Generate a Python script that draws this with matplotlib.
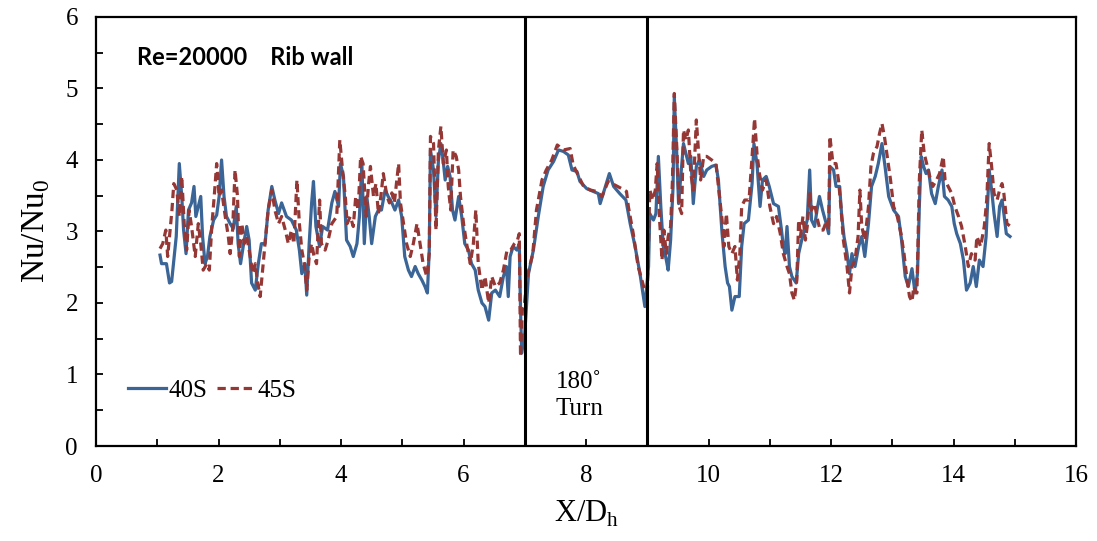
import matplotlib
matplotlib.use("Agg")
import matplotlib.pyplot as plt
from matplotlib.ticker import MultipleLocator

# 40S 曲线 (X/Dh, Nu/Nu0)
x40 = [1.045, 1.07, 1.15, 1.20, 1.235, 1.31, 1.36, 1.40, 1.43, 1.47, 1.51, 1.56, 1.60, 1.63, 1.67,
       1.71, 1.74, 1.78, 1.82, 1.86, 1.92, 1.97, 2.01, 2.05, 2.09, 2.13, 2.19, 2.24, 2.29, 2.32,
       2.36, 2.41, 2.46, 2.50, 2.54, 2.60, 2.65, 2.70, 2.76, 2.81, 2.87, 2.92, 2.98, 3.03, 3.11,
       3.19, 3.27, 3.32, 3.36, 3.41, 3.44, 3.48, 3.52, 3.55, 3.59, 3.65, 3.70, 3.78, 3.85, 3.90,
       3.96, 3.99, 4.04, 4.09, 4.15, 4.20, 4.26, 4.30, 4.34, 4.38, 4.42, 4.46, 4.50, 4.56, 4.61,
       4.66, 4.72, 4.77, 4.83, 4.88, 4.94, 4.99, 5.04, 5.10, 5.15, 5.21, 5.26, 5.32, 5.37, 5.41,
       5.44, 5.46, 5.51, 5.55, 5.59, 5.63, 5.66, 5.70, 5.74, 5.78, 5.82, 5.86, 5.92, 5.97, 6.02,
       6.08, 6.13, 6.19, 6.24, 6.30, 6.35, 6.41, 6.46, 6.52, 6.59, 6.65, 6.70, 6.73, 6.76, 6.81,
       6.87, 6.91, 6.93, 6.95, 7.00, 7.06, 7.14, 7.22, 7.30, 7.38, 7.47, 7.55, 7.63, 7.71, 7.77,
       7.85, 7.90, 8.01, 8.12, 8.20, 8.23, 8.28, 8.38, 8.45, 8.55, 8.65, 8.72, 8.80, 8.88, 8.96,
       9.02, 9.04, 9.10, 9.14, 9.18, 9.22, 9.26, 9.31, 9.34, 9.38, 9.42, 9.44, 9.48, 9.51, 9.55,
       9.59, 9.63, 9.67, 9.71, 9.75, 9.80, 9.85, 9.92, 9.97, 10.05, 10.12, 10.16, 10.22, 10.27, 10.31,
       10.34, 10.38, 10.43, 10.50, 10.54, 10.58, 10.65, 10.71, 10.74, 10.79, 10.84, 10.88, 10.94, 10.99, 11.06,
       11.14, 11.19, 11.22, 11.25, 11.28, 11.32, 11.36, 11.43, 11.47, 11.52, 11.58, 11.61, 11.65, 11.68, 11.73,
       11.77, 11.81, 11.86, 11.92, 11.96, 11.98, 12.04, 12.08, 12.14, 12.17, 12.21, 12.26, 12.30, 12.34, 12.39,
       12.45, 12.50, 12.55, 12.61, 12.66, 12.72, 12.77, 12.83, 12.88, 12.94, 13.02, 13.10, 13.15, 13.21, 13.26,
       13.32, 13.37, 13.41, 13.44, 13.47, 13.51, 13.55, 13.59, 13.64, 13.70, 13.75, 13.81, 13.85, 13.91, 13.97,
       14.01, 14.05, 14.11, 14.16, 14.21, 14.27, 14.32, 14.37, 14.42, 14.48, 14.53, 14.58, 14.62, 14.66, 14.71,
       14.75, 14.79, 14.82, 14.86, 14.92]
y40 = [2.67, 2.55, 2.55, 2.28, 2.30, 2.93, 3.95, 3.49, 3.02, 2.69, 3.30, 3.40, 3.63, 3.21, 3.35,
       3.49, 2.93, 2.55, 2.65, 2.93, 3.16, 3.23, 3.49, 4.00, 3.49, 3.21, 3.11, 3.04, 3.35, 2.83,
       2.55, 2.83, 3.07, 2.88, 2.28, 2.18, 2.55, 2.83, 2.83, 3.30, 3.63, 3.44, 3.25, 3.40, 3.21,
       3.16, 3.02, 2.74, 2.41, 2.55, 2.11, 2.83, 3.40, 3.70, 3.07, 2.79, 3.07, 3.02, 3.40, 3.56,
       3.35, 3.95, 3.77, 2.88, 2.79, 2.65, 2.83, 3.21, 3.95, 2.83, 3.49, 3.21, 2.83, 3.21, 3.30,
       3.30, 3.58, 3.49, 3.40, 3.30, 3.44, 3.21, 2.65, 2.46, 2.37, 2.51, 2.41, 2.32, 2.23, 2.14,
       2.74, 4.14, 3.86, 3.21, 4.00, 4.23, 4.05, 3.72, 3.91, 3.77, 3.30, 3.16, 3.49, 3.21, 2.83,
       2.74, 2.55, 2.46, 2.18, 2.00, 1.95, 1.76, 2.14, 2.18, 2.09, 2.37, 2.51, 2.09, 2.65, 2.79,
       2.74, 2.83, 1.90, 1.30, 1.58, 2.41, 2.74, 3.21, 3.63, 3.86, 3.98, 4.14, 4.12, 4.07, 3.86,
       3.84, 3.70, 3.60, 3.56, 3.53, 3.39, 3.53, 3.81, 3.63, 3.53, 3.44, 3.11, 2.79, 2.41, 1.95,
       2.51, 3.25, 3.16, 3.25, 4.05, 3.35, 2.79, 2.60, 2.46, 2.88, 3.63, 4.89, 4.09, 3.39, 3.81,
       4.23, 4.09, 3.95, 4.05, 3.39, 3.91, 4.00, 3.77, 3.86, 3.91, 3.93, 3.72, 2.97, 2.51, 2.28,
       2.23, 1.90, 2.09, 2.09, 2.79, 3.11, 3.16, 3.67, 4.23, 3.95, 3.35, 3.72, 3.77, 3.63, 3.39,
       3.35, 3.02, 2.79, 2.69, 3.07, 2.51, 2.37, 2.28, 2.69, 2.88, 3.07, 3.16, 3.86, 3.16, 3.07,
       3.30, 3.49, 3.30, 3.11, 2.97, 3.91, 3.86, 3.63, 3.63, 3.25, 2.93, 2.69, 2.41, 2.69, 2.51,
       2.79, 2.93, 2.65, 3.11, 3.63, 3.77, 3.95, 4.23, 3.91, 3.49, 3.30, 3.21, 2.88, 2.37, 2.23,
       2.48, 2.14, 2.41, 3.35, 4.05, 3.91, 3.81, 3.86, 3.53, 3.39, 3.63, 3.86, 3.49, 3.44, 3.35,
       3.11, 2.97, 2.83, 2.60, 2.18, 2.28, 2.51, 2.23, 2.60, 2.51, 2.93, 3.86, 3.58, 3.25, 2.93,
       3.35, 3.44, 3.25, 2.97, 2.93]

# 45S 曲线
x45 = [1.045, 1.09, 1.14, 1.17, 1.24, 1.27, 1.32, 1.36, 1.40, 1.44, 1.48, 1.52, 1.56, 1.62, 1.67,
       1.71, 1.75, 1.81, 1.85, 1.89, 1.93, 1.97, 2.01, 2.05, 2.11, 2.16, 2.19, 2.23, 2.27, 2.31,
       2.34, 2.38, 2.42, 2.46, 2.50, 2.56, 2.60, 2.64, 2.68, 2.72, 2.76, 2.81, 2.87, 2.92, 2.98,
       3.03, 3.09, 3.14, 3.19, 3.23, 3.28, 3.32, 3.36, 3.40, 3.44, 3.48, 3.52, 3.56, 3.60, 3.65,
       3.68, 3.74, 3.79, 3.85, 3.93, 3.98, 4.03, 4.07, 4.10, 4.15, 4.20, 4.24, 4.28, 4.32, 4.36,
       4.41, 4.45, 4.48, 4.53, 4.57, 4.61, 4.65, 4.69, 4.75, 4.79, 4.83, 4.87, 4.91, 4.94, 4.97,
       5.02, 5.07, 5.13, 5.18, 5.24, 5.29, 5.34, 5.40, 5.44, 5.46, 5.51, 5.55, 5.59, 5.63, 5.67,
       5.72, 5.75, 5.79, 5.83, 5.88, 5.92, 5.95, 6.00, 6.05, 6.11, 6.16, 6.20, 6.24, 6.30, 6.35,
       6.41, 6.46, 6.52, 6.59, 6.65, 6.71, 6.77, 6.83, 6.88, 6.91, 6.93, 6.96, 6.99, 7.04, 7.13,
       7.19, 7.28, 7.35, 7.44, 7.53, 7.63, 7.74, 7.79, 7.87, 7.96, 8.07, 8.17, 8.26, 8.36, 8.47,
       8.58, 8.66, 8.69, 8.77, 8.85, 8.94, 9.00, 9.04, 9.09, 9.13, 9.16, 9.20, 9.24, 9.27, 9.31,
       9.34, 9.38, 9.41, 9.44, 9.48, 9.52, 9.56, 9.59, 9.63, 9.67, 9.71, 9.75, 9.80, 9.83, 9.87,
       9.92, 9.97, 10.05, 10.12, 10.16, 10.22, 10.25, 10.29, 10.33, 10.38, 10.43, 10.47, 10.51, 10.54, 10.59,
       10.66, 10.71, 10.75, 10.79, 10.83, 10.88, 10.94, 11.00, 11.06, 11.11, 11.17, 11.22, 11.28, 11.32, 11.36,
       11.40, 11.44, 11.47, 11.50, 11.54, 11.58, 11.61, 11.65, 11.68, 11.73, 11.78, 11.82, 11.87, 11.93, 11.96,
       11.98, 12.03, 12.08, 12.12, 12.16, 12.20, 12.26, 12.30, 12.34, 12.39, 12.44, 12.47, 12.50, 12.55, 12.61,
       12.65, 12.69, 12.75, 12.79, 12.83, 12.87, 12.91, 12.97, 13.02, 13.08, 13.14, 13.19, 13.24, 13.28, 13.32,
       13.35, 13.40, 13.44, 13.48, 13.52, 13.56, 13.61, 13.66, 13.72, 13.77, 13.83, 13.86, 13.91, 13.97, 14.02,
       14.08, 14.13, 14.19, 14.24, 14.29, 14.35, 14.38, 14.44, 14.50, 14.54, 14.58, 14.62, 14.66, 14.71, 14.75,
       14.79, 14.82, 14.87, 14.93]
y45 = [2.76, 2.83, 3.02, 2.65, 3.30, 3.67, 3.58, 3.21, 3.77, 3.11, 2.74, 3.30, 3.07, 2.65, 3.11,
       2.83, 2.46, 2.55, 2.46, 3.07, 3.49, 3.95, 3.49, 3.58, 3.21, 2.93, 2.69, 3.02, 3.86, 3.49,
       2.65, 3.11, 2.83, 2.93, 2.74, 2.41, 2.55, 2.28, 2.09, 2.46, 2.83, 3.30, 3.58, 3.30, 3.11,
       3.21, 3.02, 2.83, 3.02, 2.83, 3.72, 3.11, 2.74, 2.55, 2.18, 2.65, 2.83, 2.65, 2.55, 3.44,
       2.83, 2.74, 2.88, 3.11, 3.21, 4.28, 3.81, 3.49, 3.11, 3.21, 3.07, 3.49, 3.30, 4.05, 3.95,
       3.21, 3.67, 3.91, 3.49, 3.67, 3.25, 3.49, 3.81, 3.49, 3.40, 3.54, 3.40, 3.72, 3.95, 3.40,
       3.11, 2.83, 2.65, 2.83, 3.11, 2.83, 2.55, 2.37, 2.69, 4.33, 4.23, 3.02, 4.14, 4.47, 3.95,
       4.14, 3.63, 3.30, 4.14, 4.05, 3.86, 3.49, 3.11, 2.83, 2.55, 2.83, 3.30, 2.55, 2.18, 2.37,
       2.00, 2.37, 2.23, 2.28, 2.46, 2.74, 2.74, 2.83, 2.88, 2.97, 1.25, 1.90, 1.95, 2.37, 2.69,
       3.30, 3.72, 3.86, 4.00, 4.21, 4.14, 4.16, 3.93, 3.79, 3.63, 3.58, 3.56, 3.49, 3.70, 3.65,
       3.60, 3.56, 3.35, 2.97, 2.51, 2.23, 2.14, 3.58, 3.44, 3.58, 3.95, 3.16, 2.60, 3.02, 2.69,
       2.93, 3.07, 3.72, 4.93, 4.19, 3.35, 3.25, 4.42, 4.28, 4.42, 3.81, 3.58, 4.56, 4.19, 3.72,
       4.05, 4.05, 4.00, 3.95, 3.63, 3.16, 2.79, 3.25, 2.79, 2.69, 2.79, 2.32, 2.69, 3.35, 3.44,
       3.44, 4.05, 4.58, 4.09, 3.81, 3.58, 3.72, 3.35, 3.11, 3.21, 2.97, 2.69, 2.51, 2.41, 2.14,
       2.04, 2.32, 3.16, 2.93, 3.21, 2.88, 3.07, 3.53, 3.30, 3.39, 3.16, 3.02, 3.02, 3.16, 3.02,
       4.33, 3.95, 3.95, 3.72, 3.35, 2.88, 2.51, 2.14, 2.51, 2.60, 2.93, 3.58, 3.07, 2.88, 3.35,
       3.91, 4.09, 4.19, 4.37, 4.51, 4.33, 4.09, 3.72, 3.35, 3.21, 2.97, 2.69, 2.32, 2.09, 2.02,
       2.23, 2.14, 3.72, 4.42, 4.09, 3.95, 3.77, 3.63, 3.72, 3.81, 4.05, 3.72, 3.63, 3.53, 3.35,
       3.21, 3.07, 2.79, 2.51, 2.69, 2.60, 2.93, 2.79, 3.07, 3.44, 4.23, 3.91, 3.53, 3.44, 3.58,
       3.67, 3.53, 3.11, 3.07]

# 回流段边界
turn_x = [7, 9]

plt.rcParams['font.family'] = ['Liberation Serif', 'DejaVu Serif']
plt.rcParams['mathtext.fontset'] = 'custom'
plt.rcParams['mathtext.rm'] = 'Liberation Serif'

fig = plt.figure(figsize=(10.97, 5.41), dpi=100)
ax = fig.add_axes([0.0875, 0.1756, 0.8935, 0.793])

ax.plot(x40, y40, color='#3A6596', lw=2.3, label='40S', zorder=3)
ax.plot(x45, y45, color='#953735', lw=2.3, ls=(0, (2.6, 1.5)), label='45S', zorder=4)

for xv in turn_x:
    ax.axvline(xv, color='black', lw=2.2, zorder=5)

ax.set_xlim(0, 16)
ax.set_ylim(0, 6)
ax.xaxis.set_major_locator(MultipleLocator(2))
ax.xaxis.set_minor_locator(MultipleLocator(1))
ax.yaxis.set_major_locator(MultipleLocator(1))
ax.yaxis.set_minor_locator(MultipleLocator(0.5))
ax.tick_params(which='both', direction='in', top=False, right=False, width=1.3, labelsize=18)
ax.tick_params(axis='x', pad=14)
ax.tick_params(axis='y', pad=13)
ax.tick_params(which='major', length=5)
ax.tick_params(which='minor', length=5)
for sp in ax.spines.values():
    sp.set_linewidth(1.6)

ax.set_xlabel(r'X/D$_\mathregular{h}$', fontsize=22, labelpad=8)
ax.set_ylabel(r'Nu/Nu$_\mathregular{0}$', fontsize=24, labelpad=10)

ax.text(0.042, 0.905, 'Re=20000    Rib wall', transform=ax.transAxes, fontsize=17,
        fontweight='bold', family=['Lato', 'DejaVu Sans'], va='center')
ax.text(7.5, 0.70, '180˚\nTurn', fontsize=18, ha='left', va='center', linespacing=1.3)

ax.legend(loc='lower left', bbox_to_anchor=(0.01, 0.05), ncol=2, frameon=False, fontsize=18,
          handlelength=1.5, handletextpad=0.1, columnspacing=0.4)

fig.savefig('out.png', dpi=100)
